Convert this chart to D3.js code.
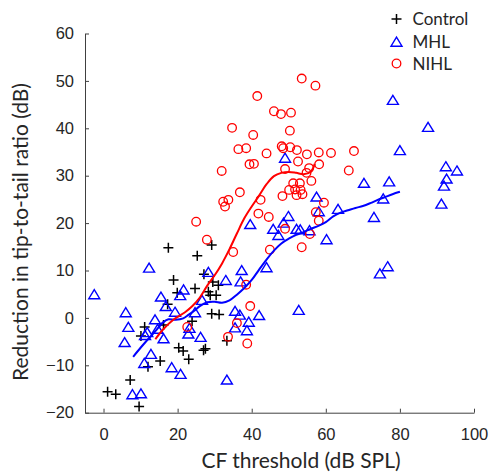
<!DOCTYPE html>
<html>
<head>
<meta charset="utf-8">
<script src="https://cdn.jsdelivr.net/npm/d3@7"></script>
<style>
  body { margin: 0; background: #fff; }
  svg { display: block; }
</style>
</head>
<body>
<svg id="chart" width="489" height="473"></svg>
<script>
// ---------------- data ----------------
const xTicks = [0, 20, 40, 60, 80, 100];
const yTicks = [-20, -10, 0, 10, 20, 30, 40, 50, 60];
const seriesNames = ["Control", "MHL", "NIHL"];

// [CF threshold (dB SPL), reduction in tip-to-tail ratio (dB)]
const controlPts = [
  [1.1,-15.6],[3.3,-16.1],[7.2,-13.1],[9.6,-18.7],[10.1,-3.8],[11.1,-1.9],[12.0,-10.3],
  [15.3,-9.1],[16.2,-1.5],[17.3,2.9],[17.5,14.8],[18.9,8.0],[19.9,5.3],[20.3,-6.3],
  [21.5,-7.0],[23.0,-8.7],[23.9,-0.7],[24.7,6.2],[25.3,13.1],[27.1,9.2],[27.0,-6.8],
  [27.5,-6.5],[28.3,5.5],[29.2,15.4],[28.8,4.8],[30.4,4.8],[29.5,7.6],[31.0,6.9],
  [29.2,0.9],[31.2,0.7],[33.3,-4.8]
];
const mhlPts = [
  [-2.5,5.0],[6.0,1.2],[6.7,-1.9],[5.7,-5.1],[12.3,10.6],[11.2,-3.6],[11.8,-3.0],[12.8,-7.6],
  [11.0,-9.5],[7.8,-16.1],[10.1,-15.9],[13.9,-0.3],[14.6,-2.3],[16.2,-4.3],[15.5,4.5],
  [16.8,2.5],[19.3,1.3],[18.4,-10.4],[20.8,-11.8],[20.7,4.8],[21.6,6.0],[22.9,-3.3],
  [23.2,-2.1],[24.7,1.2],[26.2,-4.0],[26.6,3.8],[28.3,9.7],[33.3,-13.0],[33.0,8.0],
  [35.5,1.5],[36.8,0.7],[37.3,10.1],[37.0,7.7],[35.5,-2.0],[38.7,-2.6],[39.2,-0.8],
  [42.0,0.6],[44.0,10.7],[52.7,1.7],[49.0,33.8],[39.6,19.8],[45.8,18.8],[47.2,17.5],
  [48.6,20.1],[49.9,21.5],[52.1,18.8],[53.1,18.7],[55.6,18.5],[57.5,25.6],[58.1,22.5],
  [60.2,16.6],[63.3,23.0],[70.3,28.5],[73.0,21.3],[75.5,25.2],[77.1,28.8],[78.1,46.0],
  [80.0,35.4],[87.6,40.3],[74.6,9.4],[76.7,10.9],[92.4,32.0],[95.4,31.1],[92.6,29.4],
  [91.9,27.9],[91.2,24.1]
];
const nihlPts = [
  [25.0,20.3],[27.9,16.5],[35.0,13.9],[38.5,7.0],[39.6,2.5],[22.6,-1.9],[36.0,-1.1],
  [33.6,-4.0],[38.8,-5.4],[31.9,31.0],[32.3,24.5],[33.7,24.9],[32.8,23.5],[34.7,40.1],
  [36.4,35.6],[38.5,35.8],[36.8,26.5],[39.4,32.4],[40.6,32.5],[40.4,38.6],[41.5,46.8],
  [42.4,24.9],[41.8,22.0],[44.6,21.3],[44.0,34.7],[46.0,43.6],[47.9,43.0],[50.6,43.3],
  [53.5,50.5],[57.2,49.0],[50.3,39.5],[48.1,36.2],[48.5,35.8],[50.4,36.0],[52.2,35.4],
  [54.9,34.5],[58.1,34.9],[61.4,34.8],[67.6,35.2],[49.0,31.4],[52.5,33.0],[55.5,31.6],
  [58.2,32.4],[54.8,30.6],[56.1,28.9],[66.2,31.1],[51.2,28.4],[53.0,28.4],[50.1,27.0],
  [51.7,27.1],[53.2,27.0],[52.1,25.9],[53.7,26.1],[48.3,25.7],[59.5,24.3],[57.3,22.3],
  [58.1,20.5],[55.7,17.7],[44.9,14.4],[53.5,14.9],[49.0,18.8]
];
// smoothed trend lines
const mhlTrend = [
  [8,-8.2],[10,-6.3],[12,-4.5],[14,-2.8],[16,-1.0],[17.5,-0.3],[19.5,-0.4],[21.5,-0.1],
  [23,0.7],[24.5,1.5],[26,2.5],[28,3.3],[30,3.4],[32,3.2],[34,3.7],[36,4.9],[38,6.3],
  [40,8.0],[42,10.2],[44,12.3],[46,14.2],[48,15.7],[50,16.7],[52,17.5],[54,18.1],
  [56,18.8],[58,19.4],[60,20.2],[62,21.4],[64,22.2],[66,22.7],[68,23.2],[70,23.6],
  [72,24.2],[74,24.9],[76,25.5],[78,26.1],[80,26.6]
];
const nihlTrend = [
  [14,-4.5],[16,-2.5],[19,-0.3],[22,1.2],[24,2.5],[26,4.3],[28,6.8],[30,9.0],[32,11.5],
  [34,14.5],[36,17.8],[38,21.0],[40,23.5],[42,25.8],[44,28.2],[46,29.9],[48,30.6],
  [50,30.8],[52,30.6],[54,30.3],[56,30.9],[57,32.5]
];

// ---------------- drawing ----------------
const svg = d3.select("#chart");
const textCol = "#262626";
const x = d3.scaleLinear().domain([-5, 100]).range([85, 474]);
const y = d3.scaleLinear().domain([-20, 60]).range([412.7, 33.5]);

const tickFont = "'Liberation Sans', Arial, sans-serif";
const labelFont = "Lato, 'Open Sans', sans-serif";

const xAxis = svg.append("g").attr("transform", `translate(0,${y(-20)})`)
  .call(d3.axisBottom(x).tickValues(xTicks).tickSizeInner(-4).tickSizeOuter(0).tickPadding(16));
const yAxis = svg.append("g").attr("transform", `translate(${x(-5)},0)`)
  .call(d3.axisLeft(y).tickValues(yTicks).tickSizeInner(-4).tickSizeOuter(0).tickPadding(11));
[xAxis, yAxis].forEach(g => {
  g.select(".domain").attr("stroke", "#404040").attr("stroke-width", 1);
  g.selectAll(".tick line").attr("stroke", "#404040");
  g.selectAll(".tick text").attr("fill", textCol).style("font-family", tickFont).style("font-size", "16.5px");
});

// markers
const plusPath = s => `M${-s},0H${s}M0,${-s}V${s}`;
const triPath = (w, h) => `M0,${-h/2}L${w/2},${h/2}L${-w/2},${h/2}Z`;

svg.append("g").selectAll("path").data(controlPts).join("path")
  .attr("d", plusPath(5))
  .attr("transform", d => `translate(${x(d[0])},${y(d[1])})`)
  .attr("stroke", "#000").attr("stroke-width", 1.5).attr("fill", "none");

svg.append("g").selectAll("path").data(mhlPts).join("path")
  .attr("d", triPath(11, 9))
  .attr("transform", d => `translate(${x(d[0])},${y(d[1])})`)
  .attr("stroke", "#0000ff").attr("stroke-width", 1.4).attr("fill", "none");

svg.append("g").selectAll("circle").data(nihlPts).join("circle")
  .attr("cx", d => x(d[0])).attr("cy", d => y(d[1])).attr("r", 4.3)
  .attr("stroke", "#ff0000").attr("stroke-width", 1.3).attr("fill", "none");

const line = d3.line().x(d => x(d[0])).y(d => y(d[1])).curve(d3.curveCatmullRom);
svg.append("path").datum(mhlTrend).attr("d", line)
  .attr("stroke", "#0000ff").attr("stroke-width", 2).attr("fill", "none");
svg.append("path").datum(nihlTrend).attr("d", line)
  .attr("stroke", "#ff0000").attr("stroke-width", 2).attr("fill", "none");

// axis labels
svg.append("text").attr("x", 301).attr("y", 468).attr("text-anchor", "middle")
  .style("font-family", labelFont).style("font-size", "21px").attr("fill", textCol)
  .text("CF threshold (dB SPL)");
svg.append("text").attr("transform", "translate(28,232) rotate(-90)").attr("text-anchor", "middle")
  .style("font-family", labelFont).style("font-size", "21px").attr("fill", textCol)
  .text("Reduction in tip-to-tail ratio (dB)");

// legend
const legend = svg.append("g");
const legY = [19, 41.7, 63.5];
const lx = 396.5;
legend.append("path").attr("d", plusPath(5)).attr("transform", `translate(${lx},${legY[0]})`)
  .attr("stroke", "#000").attr("stroke-width", 1.5).attr("fill", "none");
legend.append("path").attr("d", triPath(11, 9)).attr("transform", `translate(${lx},${legY[1]})`)
  .attr("stroke", "#0000ff").attr("stroke-width", 1.4).attr("fill", "none");
legend.append("circle").attr("cx", lx).attr("cy", legY[2]).attr("r", 4.3)
  .attr("stroke", "#ff0000").attr("stroke-width", 1.3).attr("fill", "none");
legend.selectAll("text").data(seriesNames).join("text")
  .attr("x", 412.5).attr("y", (d, i) => legY[i] + 6)
  .style("font-family", labelFont).style("font-size", "17px").attr("fill", textCol)
  .text(d => d);
</script>
</body>
</html>
